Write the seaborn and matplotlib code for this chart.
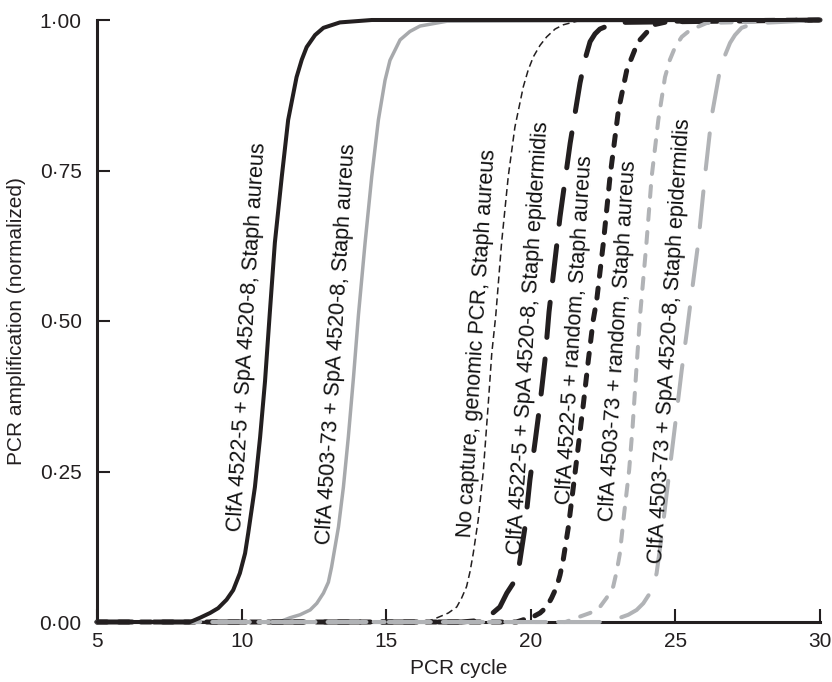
import matplotlib
matplotlib.use("Agg")
import matplotlib.pyplot as plt
import seaborn as sns

# ---------------- data ----------------
cycles_1 = [5, 8.22, 8.56, 8.91, 9.19, 9.48, 9.71, 9.94, 10.12, 10.23, 10.46, 10.64, 10.81, 10.97, 11.15, 11.39,
            11.61, 11.9, 12.08, 12.25, 12.54, 12.83, 13.4, 14.5, 30]
amp_1 = [0, 0.0, 0.007, 0.015, 0.023, 0.037, 0.053, 0.081, 0.114, 0.148, 0.224, 0.307, 0.40, 0.51, 0.63, 0.74,
         0.834, 0.905, 0.934, 0.955, 0.975, 0.987, 0.996, 1.0, 1.0]

cycles_2 = [5, 11.3, 11.67, 12.02, 12.37, 12.6, 12.83, 13.0, 13.11, 13.35, 13.52, 13.69, 13.87, 14.04, 14.27, 14.5,
            14.73, 14.96, 15.13, 15.48, 15.82, 16.17, 17.1, 30]
amp_2 = [0, 0, 0.007, 0.012, 0.02, 0.031, 0.048, 0.066, 0.091, 0.158, 0.224, 0.307, 0.407, 0.51, 0.63, 0.74,
         0.834, 0.9, 0.933, 0.967, 0.981, 0.99, 0.998, 1.0]

cycles_3 = [5, 16.4, 16.86, 17.15, 17.44, 17.61, 17.78, 17.9, 18.01, 18.18, 18.36, 18.53, 18.65, 18.79, 18.99, 19.22,
            19.45, 19.74, 19.91, 20.09, 20.32, 20.55, 20.84, 21.12, 21.6, 30]
amp_3 = [0, 0, 0.009, 0.015, 0.025, 0.04, 0.059, 0.084, 0.114, 0.169, 0.252, 0.363, 0.446, 0.51, 0.63, 0.74,
         0.822, 0.889, 0.917, 0.939, 0.958, 0.972, 0.985, 0.992, 0.998, 1.0]

cycles_4 = [5, 17.6, 18.1, 18.47, 18.93, 19.17, 19.4, 19.57, 19.80, 19.97, 20.15, 20.32, 20.49, 20.63, 21.01, 21.36,
            21.70, 21.87, 22.05, 22.22, 22.39, 22.74, 23.08, 30]
amp_4 = [0, 0, 0.002, 0.006, 0.025, 0.048, 0.065, 0.085, 0.158, 0.236, 0.30, 0.363, 0.435, 0.515, 0.673, 0.795,
         0.895, 0.934, 0.964, 0.977, 0.985, 0.992, 0.996, 1.0]

cycles_5 = [5, 19.5, 20.09, 20.32, 20.55, 20.72, 20.9, 21.01, 21.12, 21.30, 21.47, 21.64, 21.82, 21.99, 22.16, 22.28,
            22.51, 22.74, 23.03, 23.32, 23.7, 24.0, 24.24, 24.8, 30]
amp_5 = [0, 0, 0.009, 0.015, 0.025, 0.04, 0.059, 0.078, 0.103, 0.158, 0.224, 0.291, 0.363, 0.435, 0.502, 0.535,
         0.63, 0.74, 0.85, 0.917, 0.963, 0.979, 0.992, 0.998, 1.0]

cycles_6 = [5, 21.2, 21.70, 22.05, 22.39, 22.62, 22.85, 22.97, 23.08, 23.23, 23.40, 23.52, 23.65, 23.78, 24.0, 24.18,
            24.41, 24.64, 24.81, 24.99, 25.22, 25.5, 25.79, 26.08, 30]
amp_6 = [0, 0, 0.009, 0.015, 0.025, 0.04, 0.059, 0.084, 0.114, 0.181, 0.252, 0.324, 0.419, 0.51, 0.63, 0.74,
         0.834, 0.905, 0.934, 0.955, 0.972, 0.983, 0.989, 0.995, 1.0]

cycles_7 = [5, 22.6, 23.08, 23.37, 23.66, 23.89, 24.12, 24.24, 24.35, 24.52, 24.70, 24.87, 25.04, 25.22, 25.39, 25.56,
            25.79, 26.02, 26.25, 26.54, 26.72, 26.89, 27.06, 27.29, 27.58, 27.93, 30]
amp_7 = [0, 0, 0.007, 0.012, 0.02, 0.031, 0.048, 0.061, 0.081, 0.141, 0.214, 0.28, 0.347, 0.419, 0.48, 0.545,
         0.63, 0.74, 0.839, 0.917, 0.942, 0.962, 0.975, 0.987, 0.992, 0.995, 1.0]

labels = [
    "ClfA 4522-5 + SpA 4520-8, Staph aureus",
    "ClfA 4503-73 + SpA 4520-8, Staph aureus",
    "No capture, genomic PCR, Staph aureus",
    "ClfA 4522-5 + SpA 4520-8, Staph epidermidis",
    "ClfA 4522-5 + random, Staph aureus",
    "ClfA 4503-73 + random, Staph aureus",
    "ClfA 4503-73 + SpA 4520-8, Staph epidermidis",
]
label_x = [10.2, 13.3, 18.16, 19.94, 21.53, 23.05, 24.81]
label_y = [0.474, 0.462, 0.463, 0.472, 0.485, 0.467, 0.467]

x_ticks = [5, 10, 15, 20, 25, 30]
x_tick_labels = ["5", "10", "15", "20", "25", "30"]
y_ticks = [0, 0.25, 0.5, 0.75, 1.0]
y_tick_labels = ["0·00", "0·25", "0·50", "0·75", "1·00"]

# ---------------- style ----------------
sns.set_style("ticks")
plt.rcParams["font.family"] = ["Liberation Sans", "DejaVu Sans"]
plt.rcParams["lines.scale_dashes"] = False

BLACK = "#231f20"
GREY = "#a7a9ac"
GREY_D = "#b1b3b6"

fig = plt.figure(figsize=(8.32, 6.82), dpi=100)
ax = fig.add_axes([97 / 832, 60 / 682, (820 - 97) / 832, 602 / 682])

series = [
    (cycles_2, amp_2, GREY, 2.5, None, 2.4),
    (cycles_3, amp_3, BLACK, 1.1, (5.0, 2.9), 2.6),
    (cycles_4, amp_4, BLACK, 3.6, (25.4, 15.6), 2.6),
    (cycles_5, amp_5, BLACK, 3.6, (7.2, 8.6), 2.6),
    (cycles_6, amp_6, GREY_D, 2.9, (7.9, 8.7), 2.6),
    (cycles_7, amp_7, GREY_D, 2.9, (26.0, 16.0), 2.6),
    (cycles_1, amp_1, BLACK, 2.9, None, 2.7),
]

for xs, ys, col, lw, dash, z in series:
    sns.lineplot(x=xs, y=ys, ax=ax, color=col, linewidth=lw, sort=False,
                 estimator=None, legend=False)
    ln = ax.lines[-1]
    if dash is not None:
        ln.set_linestyle((0, dash))
        ln.set_dash_capstyle("round" if lw > 2 else "butt")
    ln.set_solid_joinstyle("round")
    ln.set_clip_on(False)
    ln.set_zorder(z)

for lab, lx, ly in zip(labels, label_x, label_y):
    ax.text(lx, ly, lab, rotation=86.5, ha="center", va="center",
            rotation_mode="anchor", fontsize=15.5, color="#111111", zorder=5)

ax.set_xlim(5, 30)
ax.set_ylim(0, 1)
ax.set_xticks(x_ticks)
ax.set_xticklabels(x_tick_labels)
ax.set_yticks(y_ticks)
ax.set_yticklabels(y_tick_labels)
ax.tick_params(axis="both", direction="in", length=9.5, width=1.5,
               labelsize=15, colors=BLACK)
ax.tick_params(axis="y", pad=11)
ax.tick_params(axis="x", pad=7)
for s in ["top", "right"]:
    ax.spines[s].set_visible(False)
for s in ["left", "bottom"]:
    ax.spines[s].set_linewidth(2.2)
    ax.spines[s].set_color(BLACK)
ax.set_xlabel("PCR cycle", fontsize=15, color=BLACK, labelpad=6)
ax.set_ylabel("PCR amplification (normalized)", fontsize=15, color=BLACK, labelpad=10)
ax.set_facecolor("white")
fig.patch.set_facecolor("white")

fig.savefig("out.png", dpi=100, facecolor="white")
